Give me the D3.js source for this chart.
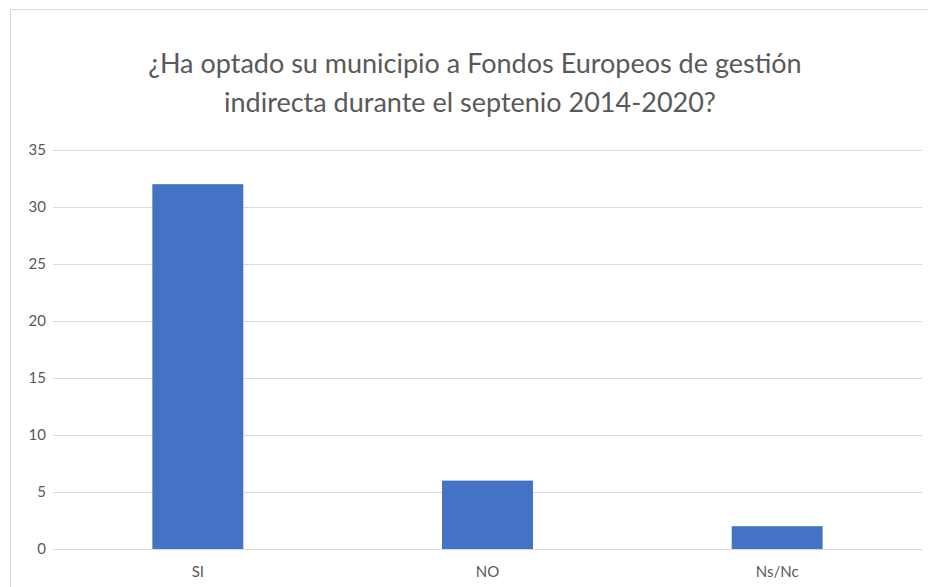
<!DOCTYPE html>
<html>
<head>
<meta charset="utf-8">
<script src="https://cdn.jsdelivr.net/npm/d3@7"></script>
<style>
  body { margin: 0; background: #fff; }
  text { font-family: Lato, "Open Sans", sans-serif; fill: #595959; }
</style>
</head>
<body>
<div class="chartContainer"></div>
<script>
var categories = ["SI", "NO", "Ns/Nc"];
var values = [32, 6, 2];
var yTicks = [0, 5, 10, 15, 20, 25, 30, 35];
var titleLines = ["¿Ha optado su municipio a Fondos Europeos de gestión",
                  "indirecta durante el septenio 2014-2020?"];

var width = 928;
var height = 587;
var margin = {top: 150, right: 6, bottom: 38, left: 53};

var svg = d3.select(".chartContainer")
  .append("svg")
    .attr("width", width)
    .attr("height", height);

// chart frame
svg.append("rect")
    .attr("x", 10.5).attr("y", 9.5)
    .attr("width", width).attr("height", height)
    .style("fill", "none")
    .style("stroke", "#d9d9d9");

var x = d3.scaleBand()
    .domain(categories)
    .range([margin.left, width - margin.right]);

var y = d3.scaleLinear()
    .domain([0, 35])
    .range([height - margin.bottom, margin.top]);

// title
svg.append("g").attr("class", "title")
  .selectAll("text")
    .data(titleLines)
  .enter().append("text")
    .attr("x", function(d, i) { return i == 0 ? 475 : 470; })
    .attr("y", function(d, i) { return 73 + i * 39; })
    .attr("text-anchor", "middle")
    .style("font-size", "27px")
    .text(function(d) { return d; });

// gridlines + y labels
var yAxis = svg.append("g").attr("class", "yAxis");

yAxis.selectAll(".grid")
    .data(yTicks)
  .enter().append("line")
    .attr("class", "grid")
    .attr("x1", margin.left)
    .attr("x2", width - margin.right)
    .attr("y1", function(d) { return Math.round(y(d)) + 0.5; })
    .attr("y2", function(d) { return Math.round(y(d)) + 0.5; })
    .style("stroke", "#d9d9d9")
    .style("stroke-width", 1);

yAxis.selectAll(".tickLabel")
    .data(yTicks)
  .enter().append("text")
    .attr("class", "tickLabel")
    .attr("x", 46)
    .attr("y", function(d) { return y(d) + 5; })
    .attr("text-anchor", "end")
    .style("font-size", "15px")
    .text(function(d) { return d; });

// bars
var barW = x.bandwidth() * 0.314;

svg.append("g").attr("class", "bars")
  .selectAll(".bar")
    .data(values)
  .enter().append("rect")
    .attr("class", "bar")
    .attr("x", function(d, i) { return x(categories[i]) + (x.bandwidth() - barW) / 2; })
    .attr("y", function(d) { return y(d); })
    .attr("width", barW)
    .attr("height", function(d) { return y(0) - y(d); })
    .style("fill", "#4472c4");

// category labels
svg.append("g").attr("class", "xAxis")
  .selectAll("text")
    .data(categories)
  .enter().append("text")
    .attr("x", function(d) { return x(d) + x.bandwidth() / 2; })
    .attr("y", 577)
    .attr("text-anchor", "middle")
    .style("font-size", "15px")
    .text(function(d) { return d; });
</script>
</body>
</html>
